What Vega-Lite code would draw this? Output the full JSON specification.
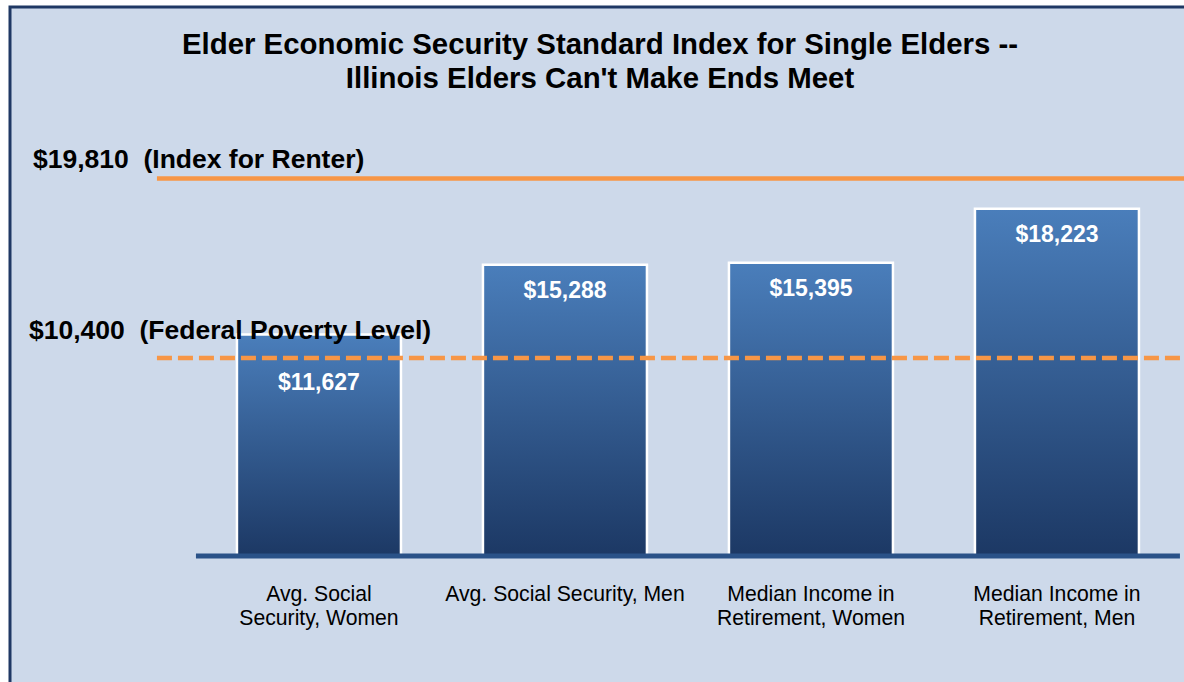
{
  "$schema": "https://vega.github.io/schema/vega-lite/v6.json",
  "width": 1190,
  "height": 683,
  "autosize": {"type": "none"},
  "padding": {"left": 10, "top": 7, "right": 0, "bottom": 0},
  "background": "white",
  "config": {
    "view": {"fill": "#CDD9EA", "stroke": "#1F3864", "strokeWidth": 3},
    "font": "Liberation Sans"
  },
  "title": {
    "text": ["Elder Economic Security Standard Index for Single Elders --", "Illinois Elders Can't Make Ends Meet"],
    "font": "Liberation Sans",
    "fontSize": 29.4,
    "fontWeight": "bold",
    "color": "#000000",
    "lineHeight": 33.4,
    "anchor": "middle",
    "offset": -87,
    "dx": -5
  },
  "datasets": {
    "bars": [
      {"category": "Avg. Social Security, Women", "value": 11627, "label": "Avg. Social\nSecurity, Women"},
      {"category": "Avg. Social Security, Men", "value": 15288, "label": "Avg. Social Security, Men"},
      {"category": "Median Income in Retirement, Women", "value": 15395, "label": "Median Income in\nRetirement, Women"},
      {"category": "Median Income in Retirement, Men", "value": 18223, "label": "Median Income in\nRetirement, Men"}
    ],
    "refs": [
      {"kind": "renter", "value": 19810, "label": "$19,810\u00a0\u00a0(Index for Renter)"},
      {"kind": "poverty", "value": 10400, "label": "$10,400\u00a0\u00a0(Federal Poverty Level)"}
    ],
    "base": [{"level": 0}]
  },
  "layer": [
    {
      "data": {"name": "bars"},
      "mark": {
        "type": "bar",
        "stroke": "white",
        "strokeWidth": 2.5,
        "fill": {
          "gradient": "linear",
          "x1": 0, "y1": 0, "x2": 0, "y2": 1,
          "stops": [
            {"offset": 0, "color": "#4A7EBB"},
            {"offset": 1, "color": "#1C3864"}
          ]
        }
      },
      "encoding": {
        "x": {
          "field": "category",
          "type": "nominal",
          "sort": null,
          "axis": null,
          "scale": {
            "domain": ["Avg. Social Security, Women", "Avg. Social Security, Men", "Median Income in Retirement, Women", "Median Income in Retirement, Men"],
            "paddingInner": 0.3333,
            "paddingOuter": 0.5854,
            "align": 0.788
          }
        },
        "y": {
          "field": "value",
          "type": "quantitative",
          "axis": null,
          "scale": {"domain": [-7034, 28819], "nice": false, "zero": false}
        },
        "y2": {"datum": 0}
      }
    },
    {
      "data": {"name": "base"},
      "mark": {"type": "rule", "stroke": "#2A5288", "strokeWidth": 5},
      "encoding": {
        "x": {"datum": "Avg. Social Security, Women", "bandPosition": -0.25},
        "x2": {"datum": "Median Income in Retirement, Men", "bandPosition": 1.25},
        "y": {"field": "level", "type": "quantitative"}
      }
    },
    {
      "data": {"name": "refs"},
      "transform": [{"filter": "datum.kind === 'renter'"}],
      "mark": {"type": "rule", "stroke": "#F79646", "strokeWidth": 4.5},
      "encoding": {
        "x": {"datum": "Avg. Social Security, Women", "bandPosition": -0.4878},
        "x2": {"datum": "Median Income in Retirement, Men", "bandPosition": 1.6},
        "y": {"field": "value", "type": "quantitative"}
      }
    },
    {
      "data": {"name": "refs"},
      "transform": [{"filter": "datum.kind === 'poverty'"}],
      "mark": {"type": "rule", "stroke": "#F79646", "strokeWidth": 4.5, "strokeDash": [15, 6]},
      "encoding": {
        "x": {"datum": "Avg. Social Security, Women", "bandPosition": -0.4878},
        "x2": {"datum": "Median Income in Retirement, Men", "bandPosition": 1.6},
        "y": {"field": "value", "type": "quantitative"}
      }
    },
    {
      "data": {"name": "refs"},
      "transform": [{"filter": "datum.kind === 'renter'"}],
      "mark": {"type": "text", "align": "left", "baseline": "alphabetic", "dy": -11, "fontSize": 26.5, "fontWeight": "bold", "color": "#000000"},
      "encoding": {
        "x": {"datum": "Avg. Social Security, Women", "bandPosition": -1.244},
        "y": {"field": "value", "type": "quantitative"},
        "text": {"field": "label"}
      }
    },
    {
      "data": {"name": "refs"},
      "transform": [{"filter": "datum.kind === 'poverty'"}],
      "mark": {"type": "text", "align": "left", "baseline": "alphabetic", "dy": -19, "fontSize": 26.5, "fontWeight": "bold", "color": "#000000"},
      "encoding": {
        "x": {"datum": "Avg. Social Security, Women", "bandPosition": -1.268},
        "y": {"field": "value", "type": "quantitative"},
        "text": {"field": "label"}
      }
    },
    {
      "data": {"name": "bars"},
      "transform": [{"filter": "datum.category !== 'Avg. Social Security, Women'"}],
      "mark": {"type": "text", "align": "center", "baseline": "alphabetic", "dy": 33, "fontSize": 23, "fontWeight": "bold", "color": "white"},
      "encoding": {
        "x": {"field": "category", "type": "nominal", "sort": null},
        "y": {"field": "value", "type": "quantitative"},
        "text": {"field": "value", "type": "quantitative", "format": "$,.0f"}
      }
    },
    {
      "data": {"name": "bars"},
      "transform": [{"filter": "datum.category === 'Avg. Social Security, Women'"}],
      "mark": {"type": "text", "align": "center", "baseline": "alphabetic", "dy": 55, "fontSize": 23, "fontWeight": "bold", "color": "white"},
      "encoding": {
        "x": {"field": "category", "type": "nominal", "sort": null},
        "y": {"field": "value", "type": "quantitative"},
        "text": {"field": "value", "type": "quantitative", "format": "$,.0f"}
      }
    },
    {
      "data": {"name": "bars"},
      "mark": {"type": "text", "align": "center", "baseline": "alphabetic", "dy": 45, "fontSize": 21.2, "lineHeight": 23.5, "lineBreak": "\n", "color": "#000000"},
      "encoding": {
        "x": {"field": "category", "type": "nominal", "sort": null},
        "y": {"datum": 0},
        "text": {"field": "label"}
      }
    }
  ]
}
